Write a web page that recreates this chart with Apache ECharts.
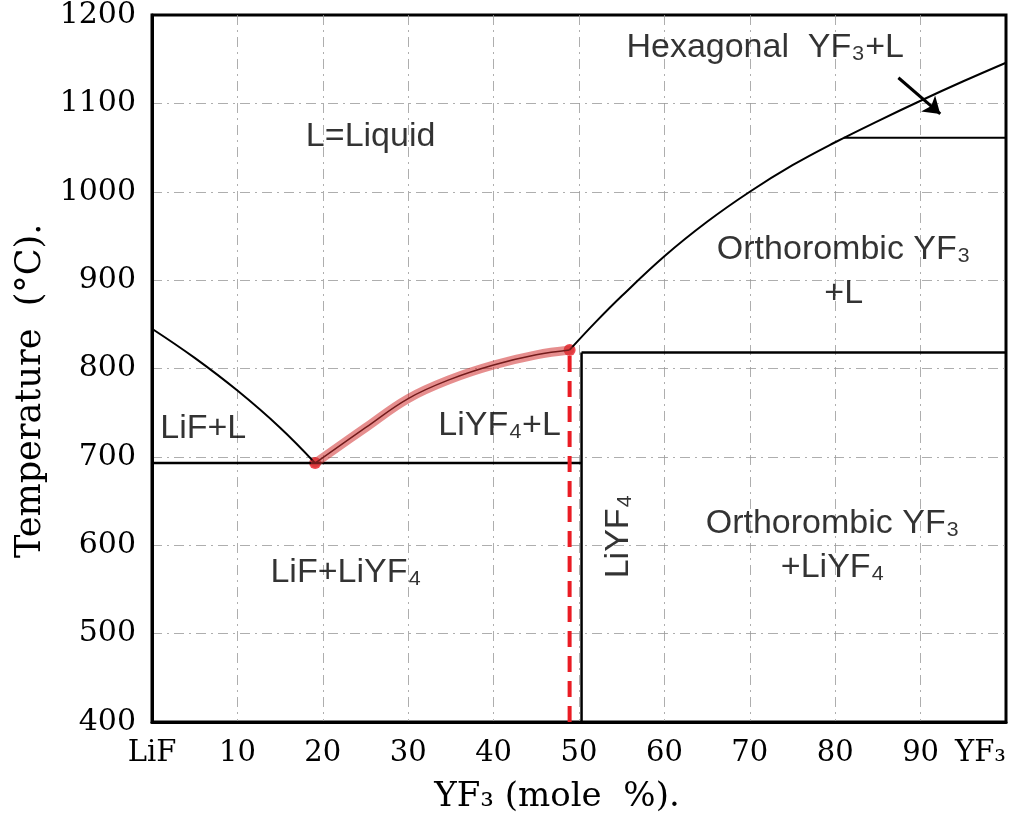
<!DOCTYPE html>
<html>
<head>
<meta charset="utf-8">
<title>LiF - YF3</title>
<script src="https://cdn.jsdelivr.net/npm/echarts@6.0.0/dist/echarts.min.js"></script>
<style>
    html,body{margin:0;padding:0;background:#fff;}
    #main{width:1019px;height:822px;}
</style>
</head>
<body>
<div id="main"></div>
<script>
// 读图得到的数据 (x: YF3 mole %, y: 温度 °C)
var xTicks = [0, 10, 20, 30, 40, 50, 60, 70, 80, 90, 100];
var xTickText = ['LiF', '10', '20', '30', '40', '50', '60', '70', '80', '90', 'YF₃'];
var yTicks = [400, 500, 600, 700, 800, 900, 1000, 1100, 1200];

var liqLiF = [[0, 845], [5, 812], [10, 775], [15, 733], [19.1, 693]];
var liqLiYF4 = [[19.1, 693], [25, 733], [30, 766], [35, 788], [40, 804], [45, 815.5], [48.9, 821]];
var liqYF3 = [[48.9, 821], [52, 853], [55, 882], [60, 927], [65, 966], [70, 1000], [75, 1030], [80, 1056], [85, 1080], [90, 1103], [95, 1125], [100, 1146]];
var eutecticLine = [[0, 693], [50.3, 693]];
var peritecticLine = [[50.3, 818], [100, 818]];
var liyf4Line = [[50.3, 400], [50.3, 818]];
var hexLine = [[81, 1061], [100, 1061]];
var redDash = [[48.9, 400], [48.9, 821]];
var redPoints = [[19.1, 693], [48.9, 821]];
var arrowFrom = [87.4, 1129];
var arrowTo = [92.3, 1088];

var regionText = ['L=Liquid', 'LiF+L', 'LiYF₄+L', 'LiF+LiYF₄', 'LiYF₄', 'Hexagonal  YF₃+L', 'Orthorombic YF₃\n+L', 'Orthorombic YF₃\n+LiYF₄'];
var regionX = [25.6, 6.0, 40.7, 22.7, 54.6, 71.8, 81.0, 79.7];
var regionT = [1062, 732, 735, 569, 610, 1163, 910, 600];

var sansFont = '"Liberation Sans", Arial, sans-serif';
var serifFont = '"DejaVu Serif", "Liberation Serif", serif';

function blackLine(data, width, smooth){
    return {
        type: 'line',
        data: data,
        showSymbol: false,
        smooth: smooth || false,
        lineStyle: {color: '#000', width: width},
        silent: true
    };
}

var labelData = [];
for (var i = 0; i < regionText.length; i++) {
    var item = {name: regionText[i], value: [regionX[i], regionT[i]]};
    if (regionText[i] === 'LiYF₄') {
        item.label = {rotate: 90};
    }
    labelData.push(item);
}

var gridDash = {color: '#9a9a9a', width: 1, type: [10, 5, 2, 5], opacity: 0.8};

var option = {
    animation: false,
    backgroundColor: '#fff',
    grid: {
        left: 152, right: 13, top: 14, bottom: 100,
        show: true, borderColor: '#000', borderWidth: 3
    },
    xAxis: {
        type: 'value', min: 0, max: 100, interval: 10,
        name: 'YF₃ (mole  %).',
        nameLocation: 'middle',
        nameGap: 58,
        nameTextStyle: {fontFamily: serifFont, fontSize: 34, color: '#000', padding: [0, 44, 0, 0]},
        axisLine: {lineStyle: {color: '#000', width: 3}},
        axisTick: {show: false},
        axisLabel: {
            fontFamily: serifFont, fontSize: 29, color: '#000', margin: 17,
            alignMaxLabel: 'right',
            formatter: function(v){
                var k = xTicks.indexOf(v);
                return k >= 0 ? xTickText[k] : '';
            }
        },
        splitLine: {show: true, showMinLine: false, showMaxLine: false, lineStyle: gridDash}
    },
    yAxis: {
        type: 'value', min: 400, max: 1200, interval: 100,
        // 末尾空格让标题整体下移一点
        name: 'Temperature  (°C).    ',
        nameLocation: 'middle',
        nameGap: 100,
        nameTextStyle: {fontFamily: serifFont, fontSize: 35, color: '#000'},
        axisLine: {lineStyle: {color: '#000', width: 3}},
        axisTick: {show: false},
        axisLabel: {
            fontFamily: serifFont, fontSize: 30, color: '#000', margin: 16,
            formatter: function(v){ return yTicks.indexOf(v) >= 0 ? String(v) : ''; }
        },
        splitLine: {show: true, showMinLine: false, showMaxLine: false, lineStyle: gridDash}
    },
    series: [
        blackLine(liqLiF, 2, 0.4),
        blackLine(eutecticLine, 2.5),
        blackLine(liyf4Line, 2.5),
        blackLine(peritecticLine, 2.5),
        blackLine(hexLine, 2),
        blackLine(liqLiYF4, 1.5, 0.4),
        {
            type: 'line',
            data: liqYF3,
            showSymbol: false,
            smooth: 0.4,
            lineStyle: {color: '#000', width: 2},
            silent: true,
            markLine: {
                silent: true,
                symbol: ['none', 'arrow'],
                symbolSize: 16,
                label: {show: false},
                lineStyle: {color: '#000', width: 3, type: 'solid'},
                data: [[{coord: arrowFrom}, {coord: arrowTo}]]
            }
        },
        {
            // 红色高亮的 LiYF4 液相线
            type: 'line',
            data: liqLiYF4,
            showSymbol: false,
            smooth: 0.4,
            lineStyle: {color: 'rgba(210,50,50,0.55)', width: 9, cap: 'round'},
            silent: true
        },
        {
            type: 'line',
            data: redDash,
            showSymbol: false,
            lineStyle: {color: '#ea1c24', width: 4, type: [16, 9]},
            silent: true
        },
        {
            type: 'scatter',
            data: redPoints,
            symbolSize: 12,
            itemStyle: {color: '#ea1c24'},
            silent: true
        },
        {
            type: 'scatter',
            data: labelData,
            symbolSize: 1,
            itemStyle: {color: 'rgba(0,0,0,0)'},
            silent: true,
            label: {
                show: true,
                position: 'inside',
                formatter: '{b}',
                fontFamily: sansFont,
                fontSize: 34,
                lineHeight: 44,
                align: 'center',
                color: '#000'
            }
        }
    ]
};

var myChart = echarts.init(document.getElementById('main'), null, {renderer: 'canvas'});
myChart.setOption(option);
</script>
</body>
</html>
